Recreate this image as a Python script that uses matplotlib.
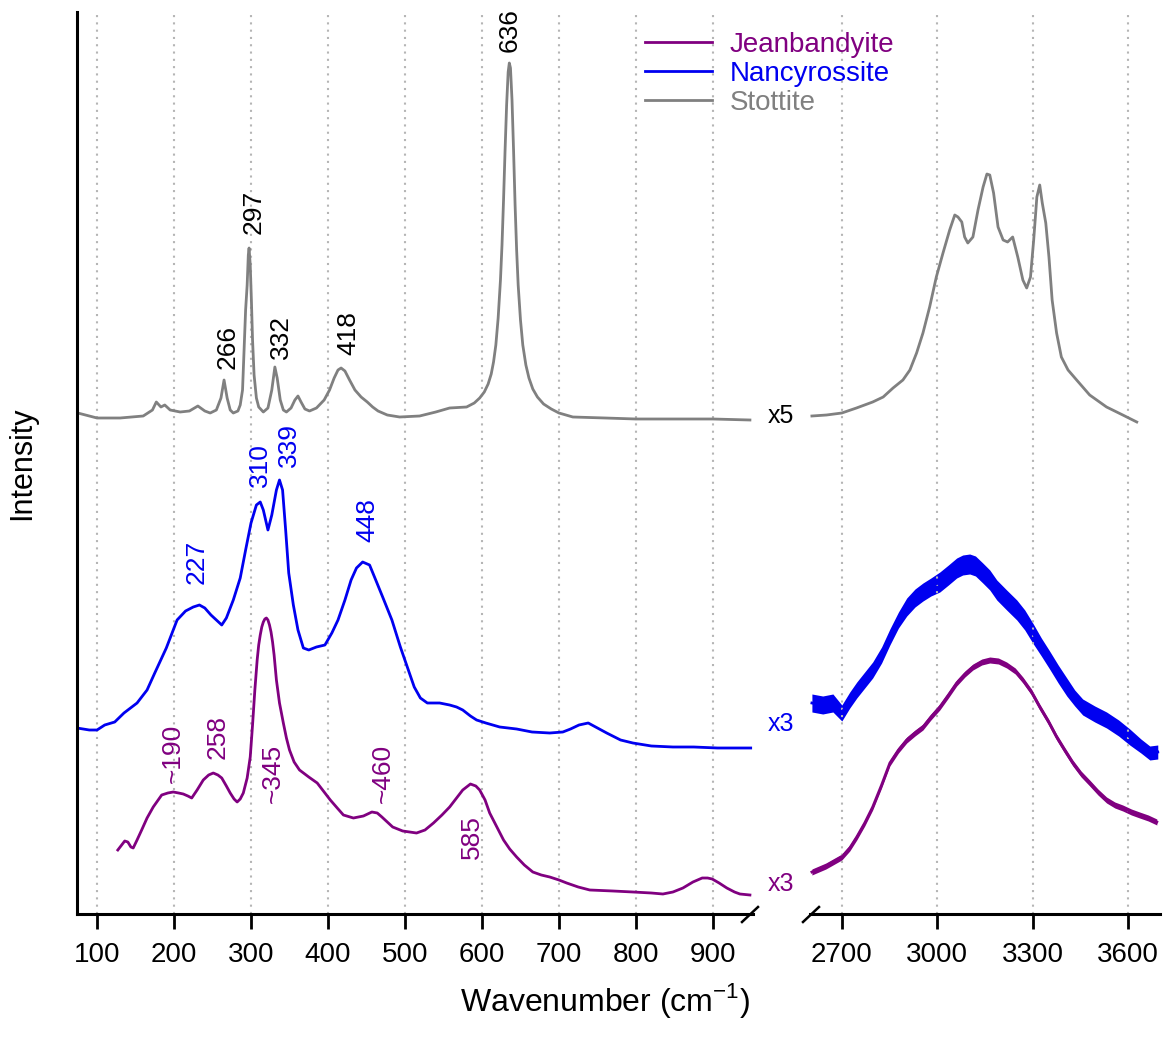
import matplotlib.pyplot as plt
from matplotlib.lines import Line2D

plt.rcParams['font.family'] = ['Liberation Sans', 'DejaVu Sans']
plt.rcParams['mathtext.fontset'] = 'custom'
plt.rcParams['mathtext.rm'] = 'Liberation Sans'

W, H = 1168, 1043

# ---- data: wavenumber (cm-1) and vertical position ----
stot_lo_wn = [75, 100, 130, 160, 172, 177, 183, 188, 195, 208, 220, 231, 240, 247, 255, 261, 265, 269,
              273, 277, 283, 286, 289, 291, 293, 295, 296.5, 297.5, 299, 300.5, 302, 304, 307, 310, 316,
              322, 327, 331, 334, 338, 342, 346, 352, 357, 361, 365, 370, 376, 385, 395, 402, 408, 413,
              417, 422, 428, 435, 443, 451, 458, 465, 477, 493, 519, 540, 558, 580, 590, 597, 603, 608,
              612, 615, 618, 621, 624, 626, 628, 630, 632, 634, 635.5, 637, 639, 641, 643, 645, 647, 650,
              653, 657, 661, 666, 672, 680, 690, 700, 718, 760, 800, 850, 900, 948]
stot_lo_py = [413, 418, 418, 416, 410, 402, 407, 405, 410, 412, 411, 406, 411, 413, 410, 398, 380, 398,
              410, 413, 411, 405, 390, 350, 310, 285, 255, 248, 265, 300, 340, 375, 398, 407, 412,
              408, 390, 367, 378, 400, 410, 412, 408, 400, 396, 402, 409, 411, 408, 400, 390, 378, 370,
              368, 371, 380, 390, 397, 402, 407, 411, 415, 417, 416, 412, 408, 407, 403, 398, 392, 384,
              374, 362, 345, 318, 280, 245, 200, 150, 105, 72, 63, 68, 100, 150, 205, 250, 285, 320,
              345, 365, 378, 389, 397, 404, 409, 413, 417, 418, 419, 419, 419, 420]

stot_hi_wn = [2606, 2652, 2700, 2746, 2797, 2830, 2861, 2892, 2914, 2935, 2955, 2976, 2997, 3018, 3039,
              3055, 3065, 3077, 3086, 3096, 3112, 3128, 3144, 3156, 3165, 3177, 3191, 3207, 3221, 3237,
              3253, 3269, 3281, 3293, 3303, 3313, 3322, 3330, 3341, 3351, 3361, 3375, 3390, 3411, 3438,
              3479, 3532, 3583, 3627]
stot_hi_py = [416, 415, 413, 408, 402, 397, 388, 380, 370, 353, 333, 307, 277, 253, 230,
              215, 217, 222, 237, 243, 237, 210, 187, 174, 175, 193, 227, 240, 242, 237,
              257, 280, 288, 277, 240, 197, 185, 203, 223, 257, 300, 333, 357, 370, 380,
              395, 407, 415, 422]

nanc_lo_wn = [74, 90, 100, 110, 123, 135, 152, 165, 175, 190, 204, 215, 225, 233, 240, 248, 262, 268,
              277, 286, 293, 300, 307, 312, 316, 322, 327, 333, 337, 341, 345, 349, 355, 361, 368, 375,
              385, 396, 405, 413, 422, 430, 437, 445, 454, 462, 471, 483, 494, 503, 512, 520, 529, 545,
              558, 567, 575, 585, 593, 605, 623, 645, 665, 688, 705, 715, 726, 738, 750, 762, 780, 796,
              820, 848, 875, 906, 930, 949]
nanc_lo_py = [728, 730, 730, 725, 722, 713, 703, 690, 673, 648, 620, 611, 607, 605, 608, 615, 625, 618,
              600, 578, 550, 523, 505, 502, 510, 530, 515, 490, 480, 490, 530, 573, 605, 630, 648, 650,
              647, 645, 633, 620, 600, 580, 568, 562, 565, 580, 597, 620, 647, 667, 687, 698, 703, 703,
              705, 707, 710, 716, 720, 723, 727, 729, 732, 733, 732, 729, 725, 723, 728, 733, 740, 743,
              746, 747, 747, 748, 748, 748]

nanc_hi_wn = [2606, 2640, 2672, 2700, 2725, 2747, 2772, 2797, 2825, 2851, 2878, 2904, 2930, 2955, 2980,
              3008, 3035, 3061, 3080, 3102, 3120, 3143, 3165, 3187, 3218, 3250, 3275, 3300, 3327, 3353,
              3380, 3407, 3432, 3457, 3495, 3532, 3570, 3605, 3640, 3668, 3693]
nanc_hi_py = [703, 705, 703, 713, 700, 690, 680, 670, 655, 637, 620, 607, 598, 592, 587,
              582, 575, 568, 565, 564, 566, 573, 580, 590, 600, 610, 620, 633, 647, 660,
              674, 687, 698, 707, 714, 720, 728, 737, 746, 753, 752]
nanc_hi_noise = [9, 9, 9, 8, 8, 8, 8, 8, 8, 8, 8, 9, 9, 9, 9,
                 10, 10, 10, 10, 10, 10, 10, 10, 10, 10, 10, 10, 10, 9, 9,
                 9, 9, 8, 8, 8, 8, 8, 8, 7, 7, 7]

jean_lo_wn = [127, 132, 136, 140, 144, 147, 152, 158, 165, 173, 184, 192, 199, 206, 212, 218, 223, 230,
              238, 245, 251, 257, 262, 268, 273, 278, 282, 286, 290, 295, 299, 302, 305, 308, 310, 312,
              314, 316, 318, 320, 322, 324, 326, 328, 330, 333, 337, 342, 346, 350, 356, 363, 375, 386,
              395, 403, 412, 420, 433, 446, 457, 464, 470, 477, 484, 497, 515, 526, 537, 548, 558, 567,
              575, 585, 592, 597, 604, 610, 620, 628, 636, 645, 655, 666, 677, 688, 700, 710, 725, 740,
              770, 796, 820, 835, 848, 861, 874, 886, 893, 899, 908, 918, 928, 935, 948]
jean_lo_py = [850, 845, 841, 842, 847, 848, 840, 830, 818, 807, 795, 793, 792, 793, 794, 796, 798, 790,
              780, 775, 773, 775, 778, 786, 793, 799, 802, 799, 793, 778, 757, 725, 690, 660, 645, 635,
              627, 622, 619, 618, 620, 625, 632, 642, 655, 680, 703, 723, 738, 750, 762, 770, 777, 783,
              792, 800, 808, 815, 818, 816, 812, 813, 817, 822, 827, 831, 833, 830, 823, 815, 807, 798,
              790, 784, 786, 790, 800, 813, 828, 840, 849, 857, 865, 872, 875, 877, 880, 883, 887, 890,
              891, 892, 893, 894, 892, 888, 882, 878, 878, 879, 883, 888, 892, 894, 895]

jean_hi_wn = [2606, 2650, 2700, 2725, 2747, 2772, 2797, 2825, 2851, 2878, 2904, 2930, 2955, 2980, 3008,
              3035, 3061, 3087, 3112, 3140, 3165, 3192, 3218, 3245, 3269, 3296, 3322, 3350, 3375, 3400,
              3426, 3452, 3479, 3505, 3532, 3558, 3583, 3610, 3636, 3663, 3690]
jean_hi_py = [872, 866, 857, 848, 837, 823, 807, 785, 763, 750, 740, 733, 727, 717, 707,
              695, 683, 674, 667, 662, 660, 661, 665, 671, 680, 692, 707, 722, 737, 750,
              763, 774, 783, 792, 800, 805, 808, 812, 815, 818, 822]


def to_int(vals):
    return [914 - v for v in vals]


names = ['Jeanbandyite', 'Nancyrossite', 'Stottite']
colors = ['#800080', '#0000f0', '#808080']

stot_labels = [('266', 269, 567), ('297', 304, 702), ('332', 339, 577), ('418', 426, 581), ('636', 636, 884)]
nanc_labels = [('227', 230, 352), ('310', 312, 449), ('339', 349, 469), ('448', 451, 394)]
jean_labels = [('~190', 199, 161), ('258', 257, 177), ('~345', 329, 141), ('~460', 471, 141), ('585', 587, 77)]

fig = plt.figure(figsize=(W / 100, H / 100), dpi=100)
ax1 = fig.add_axes([77 / W, 1 - 914 / H, (753 - 77) / W, 902 / H])
ax2 = fig.add_axes([810 / W, 1 - 914 / H, 350 / W, 902 / H])
ax2.patch.set_visible(False)

lw = 2.0
h_j, = ax1.plot(jean_lo_wn, to_int(jean_lo_py), color=colors[0], lw=lw)
h_n, = ax1.plot(nanc_lo_wn, to_int(nanc_lo_py), color=colors[1], lw=lw)
h_s, = ax1.plot(stot_lo_wn, to_int(stot_lo_py), color=colors[2], lw=lw)

ax2.plot(stot_hi_wn, to_int(stot_hi_py), color=colors[2], lw=lw)
nh = to_int(nanc_hi_py)
ax2.fill_between(nanc_hi_wn, [a - b for a, b in zip(nh, nanc_hi_noise)],
                 [a + b for a, b in zip(nh, nanc_hi_noise)], color=colors[1], lw=0)
ax2.plot(nanc_hi_wn, nh, color=colors[1], lw=lw)
jh = to_int(jean_hi_py)
ax2.fill_between(jean_hi_wn, [a - 3 for a in jh], [a + 3 for a in jh], color=colors[0], lw=0)
ax2.plot(jean_hi_wn, jh, color=colors[0], lw=lw)

for txt, x, y in stot_labels:
    ax1.text(x, y, txt, rotation=90, ha='center', va='center', fontsize=19, color='black')
for txt, x, y in nanc_labels:
    ax1.text(x, y, txt, rotation=90, ha='center', va='center', fontsize=19, color=colors[1])
for txt, x, y in jean_labels:
    ax1.text(x, y, txt, rotation=90, ha='center', va='center', fontsize=19, color=colors[0])

for ax, lim, ticks in [(ax1, (74, 952), list(range(100, 1000, 100))),
                       (ax2, (2600, 3700), [2700, 3000, 3300, 3600])]:
    ax.set_xlim(*lim)
    ax.set_ylim(0, 902)
    ax.set_xticks(ticks)
    ax.set_yticks([])
    ax.grid(axis='x', color='#b5b5b5', lw=1.5, linestyle=(0, (1, 2.5)))
    ax.tick_params(axis='x', length=11, width=2, labelsize=20, pad=9)
    for s in ['top', 'right']:
        ax.spines[s].set_visible(False)
    ax.spines['bottom'].set_linewidth(2.2)
    ax.spines['left'].set_linewidth(2.2)
ax2.spines['left'].set_visible(False)

# axis break marks
for x0 in (742, 803):
    fig.add_artist(Line2D([x0 / W, (x0 + 16) / W], [1 - 922 / H, 1 - 907 / H], color='black', lw=1.8))

# scale factors
fig.text(768 / W, 1 - 416 / H, 'x5', fontsize=18, color='black', va='center')
fig.text(768 / W, 1 - 724 / H, 'x3', fontsize=18, color=colors[1], va='center')
fig.text(768 / W, 1 - 884 / H, 'x3', fontsize=18, color=colors[0], va='center')

fig.text(22 / W, 1 - 463 / H, 'Intensity', rotation=90, fontsize=22, ha='center', va='center')
fig.text(605 / W, 1 - 1000 / H, 'Wavenumber (cm$^{-1}$)', fontsize=23, ha='center', va='center')

fig.legend([h_j, h_n, h_s], names, loc='upper left', bbox_to_anchor=(645 / W, 1 - 32 / H),
           frameon=False, fontsize=20, handlelength=2.4, handletextpad=0.65, labelspacing=0.1,
           borderpad=0, borderaxespad=0, labelcolor='linecolor')

fig.savefig('out.png', dpi=100)
